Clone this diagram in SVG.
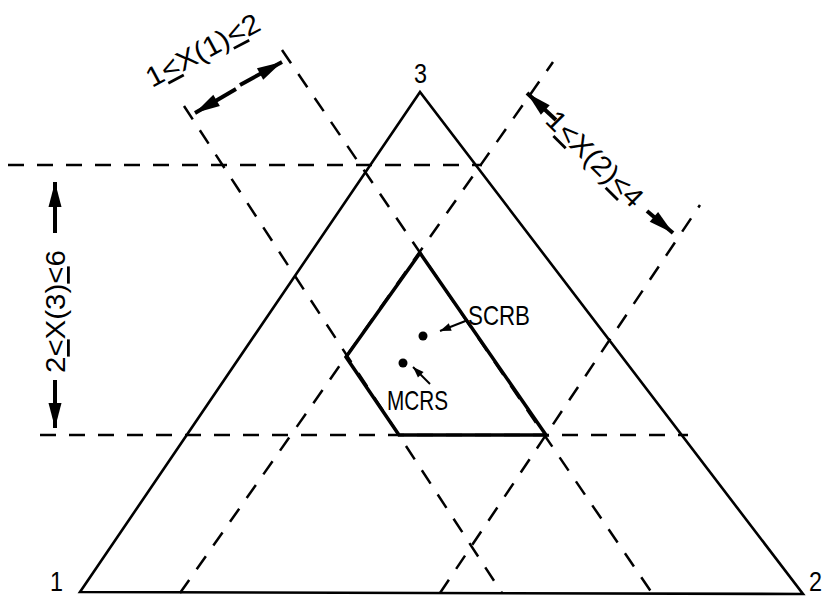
<svg xmlns="http://www.w3.org/2000/svg" width="825" height="599" viewBox="0 0 825 599">
<style>
.bg{fill:#ffffff}
.tri{fill:none;stroke:#000;stroke-width:2.6;stroke-linejoin:miter}
.reg{fill:none;stroke:#000;stroke-width:3.5;stroke-linejoin:miter}
.dash{fill:none;stroke:#000;stroke-width:2.5;stroke-dasharray:16 13}
.dim{stroke:#000;stroke-width:4}
.ptr{stroke:#000;stroke-width:2}
.lbl{font-family:"Liberation Sans",Arial,sans-serif;font-size:28px;fill:#000}
.u{text-decoration:underline}
</style>
<defs>
<marker id="ah" markerUnits="userSpaceOnUse" markerWidth="30" markerHeight="16" viewBox="-27 -8 28 16" refX="0" refY="0" orient="auto">
<path d="M0,0 L-25,-6.5 L-25,6.5 Z" fill="#000"/>
</marker>
<marker id="sah" markerUnits="userSpaceOnUse" markerWidth="14" markerHeight="10" viewBox="-13 -5 14 10" refX="0" refY="0" orient="auto">
<path d="M0,0 L-11,-4 L-11,4 Z" fill="#000"/>
</marker>
</defs>
<rect class="bg" x="0" y="0" width="825" height="599"/>

<g id="connectors">
<line class="dash" x1="8" y1="165" x2="482" y2="165"/>
<line class="dash" x1="40" y1="435" x2="688" y2="435"/>
<line class="dash" x1="184" y1="106" x2="502" y2="593"/>
<line class="dash" x1="282" y1="50" x2="652" y2="593"/>
<line class="dash" x1="180" y1="593" x2="553" y2="62"/>
<line class="dash" x1="440" y1="593" x2="700" y2="205"/>
<line class="dim" x1="236" y1="89" x2="195" y2="113" marker-end="url(#ah)"/>
<line class="dim" x1="240" y1="85" x2="282" y2="62" marker-end="url(#ah)"/>
<line class="dim" x1="556" y1="120" x2="527" y2="93" marker-end="url(#ah)"/>
<line class="dim" x1="647" y1="211" x2="673" y2="233" marker-end="url(#ah)"/>
<line class="dim" x1="55" y1="233" x2="55" y2="182" marker-end="url(#ah)"/>
<line class="dim" x1="55" y1="380" x2="55" y2="428" marker-end="url(#ah)"/>
<line class="ptr" x1="468" y1="320" x2="440" y2="331" marker-end="url(#sah)"/>
<line class="ptr" x1="430" y1="384" x2="413" y2="367" marker-end="url(#sah)"/>
</g>

<g id="triangle">
<polygon class="tri" points="80,592 803,594 420,92"/>
</g>
<g id="region">
<polygon class="reg" points="420,253 546,435 399,435 346,357"/>
</g>
<g id="scrb">
<circle cx="423" cy="336" r="4.5" fill="#000"/>
<text class="lbl" x="468" y="325" textLength="62" lengthAdjust="spacingAndGlyphs">SCRB</text>
</g>
<g id="mcrs">
<circle cx="403" cy="363" r="4.5" fill="#000"/>
<text class="lbl" x="387" y="410" textLength="61" lengthAdjust="spacingAndGlyphs">MCRS</text>
</g>
<g id="vertex1"><text class="lbl" x="50" y="591" textLength="13" lengthAdjust="spacingAndGlyphs">1</text></g>
<g id="vertex2"><text class="lbl" x="809" y="591" textLength="13" lengthAdjust="spacingAndGlyphs">2</text></g>
<g id="vertex3"><text class="lbl" x="414" y="83" textLength="13" lengthAdjust="spacingAndGlyphs">3</text></g>
<g id="label-x1">
<text class="lbl" transform="translate(152,88) rotate(-28)" textLength="125" lengthAdjust="spacingAndGlyphs">1<tspan class="u">&lt;</tspan>X(1)<tspan class="u">&lt;</tspan>2</text>
</g>
<g id="label-x2">
<text class="lbl" transform="translate(544,122) rotate(44.7)" textLength="124" lengthAdjust="spacingAndGlyphs">1<tspan class="u">&lt;</tspan>X(2)<tspan class="u">&lt;</tspan>4</text>
</g>
<g id="label-x3">
<text class="lbl" transform="translate(65,373) rotate(-90)" textLength="123" lengthAdjust="spacingAndGlyphs">2<tspan class="u">&lt;</tspan>X(3)<tspan class="u">&lt;</tspan>6</text>
</g>
</svg>
